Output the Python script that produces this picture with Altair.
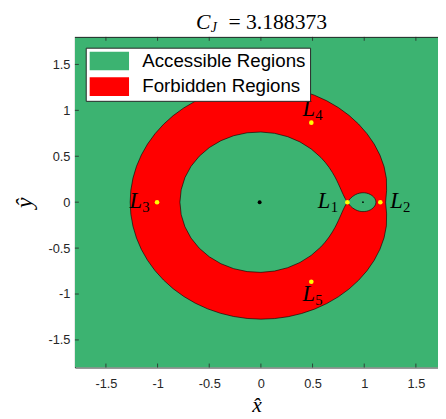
import altair as alt
import pandas as pd
import numpy as np

# ---- data (Earth-Moon CR3BP, zero-velocity curves read as polar radii) ----
MU = 0.01215
CJ_TEXT = "= 3.188373"

outer_deg = [0, 6, 12, 18, 24, 30, 36, 42, 48, 54, 60, 66, 72, 78, 84, 90,
             96, 102, 108, 114, 120, 126, 132, 138, 144, 150, 156, 162, 168, 174, 180]
outer_r = [1.2071, 1.2232, 1.2415, 1.2534, 1.2610, 1.2661, 1.2694, 1.2717,
           1.2732, 1.2742, 1.2747, 1.2749, 1.2748, 1.2746, 1.2742, 1.2736,
           1.2730, 1.2723, 1.2715, 1.2708, 1.2700, 1.2692, 1.2685, 1.2678,
           1.2672, 1.2666, 1.2662, 1.2658, 1.2655, 1.2654, 1.2653]

inner_deg = [0, 1, 2, 3, 4, 6, 8, 10, 12, 15, 18, 21, 25, 30, 35, 40, 50, 60,
             70, 80, 90, 100, 110, 120, 130, 140, 150, 160, 170, 180]
inner_r = [0.8351, 0.8285, 0.8215, 0.8152, 0.8097, 0.8005, 0.7930, 0.7869,
           0.7819, 0.7759, 0.7713, 0.7677, 0.7640, 0.7609, 0.7588, 0.7576,
           0.7567, 0.7574, 0.7591, 0.7614, 0.7642, 0.7673, 0.7704, 0.7735,
           0.7764, 0.7789, 0.7810, 0.7825, 0.7835, 0.7838]

lobe_deg = [0, 10, 20, 30, 40, 50, 60, 70, 80, 90, 100, 110, 120, 130, 140,
            150, 160, 165, 170, 175, 178, 180]
lobe_r = [0.1257, 0.1245, 0.1213, 0.1174, 0.1134, 0.1098, 0.1069, 0.1048,
          0.1033, 0.1027, 0.1029, 0.1039, 0.1059, 0.1089, 0.1133, 0.1191,
          0.1268, 0.1316, 0.1371, 0.1433, 0.1474, 0.1491]

lp_names = ["1", "2", "3", "4", "5"]
lp_x = [0.8369, 1.1557, -1.0051, 0.4879, 0.4879]
lp_y = [0.0, 0.0, 0.0, 0.8660, -0.8660]

primary_x = [-MU, 1 - MU]
primary_y = [0.0, 0.0]

regions = ["Accessible Regions", "Forbidden Regions"]
xticks = [-1.5, -1, -0.5, 0, 0.5, 1, 1.5]
yticks = [-1.5, -1, -0.5, 0, 0.5, 1, 1.5]

XLIM = [-1.8, 1.714]
YLIM = [-1.8, 1.8]

# ---- style ----
GREEN = "#3CB371"
RED = "#FF0000"
AXC = "#262626"
W, H = 369, 336
SERIF = "Liberation Serif"
SANS = "Liberation Sans"

xs = alt.Scale(domain=XLIM, nice=False, zero=False)
ys = alt.Scale(domain=YLIM, nice=False, zero=False)
cs = alt.Scale(domain=regions, range=[GREEN, RED])


def polygon(deg, r, cx, region):
    th = np.radians(np.array(deg, dtype=float))
    r = np.array(r, dtype=float)
    xt, yt = cx + r * np.cos(th), r * np.sin(th)
    xb, yb = xt[-2:0:-1], -yt[-2:0:-1]
    x = np.concatenate([xt, xb])
    y = np.concatenate([yt, yb])
    return pd.DataFrame({"x": x, "y": y, "ord": np.arange(len(x)), "region": region})


bg = pd.DataFrame({"x1": [XLIM[0]], "x2": [XLIM[1]], "y1": [YLIM[0]], "y2": [YLIM[1]],
                   "region": [regions[0]]})

base_rect = alt.Chart(bg).mark_rect(clip=True).encode(
    x=alt.X("x1:Q", scale=xs, axis=alt.Axis(
        orient="bottom", values=xticks, ticks=False, grid=False, domainColor=AXC,
        labelExpr="'' + datum.value", labelFont=SANS, labelFontSize=13,
        labelColor=AXC, labelPadding=10, title="x\u0302", titleFont=SERIF,
        titleFontStyle="italic", titleFontWeight="normal", titleFontSize=22,
        titleColor="black", titlePadding=5)),
    x2="x2:Q",
    y=alt.Y("y1:Q", scale=ys, axis=alt.Axis(
        orient="left", values=yticks, ticks=False, grid=False, domainColor=AXC,
        labelExpr="'' + datum.value", labelFont=SANS, labelFontSize=13,
        labelColor=AXC, labelPadding=5, title="y\u0302", titleFont=SERIF,
        titleFontStyle="italic", titleFontWeight="normal", titleFontSize=24,
        titleColor="black", titlePadding=12)),
    y2="y2:Q",
    fill=alt.Fill("region:N", scale=cs, legend=alt.Legend(
        title=None, orient="none", legendX=11, legendY=11,
        symbolType="M-2.105,-1H2.105V1H-2.105Z", symbolSize=361,
        symbolStrokeWidth=0, symbolOffset=10.5, labelOffset=24, labelLimit=400,
        labelFont=SANS, labelFontSize=19, labelColor="black",
        fillColor="white", strokeColor=AXC, padding=4, rowPadding=6)),
)


def poly_layer(df):
    return alt.Chart(df).mark_line(interpolate="linear-closed", stroke="black",
                                   strokeWidth=0.6, clip=True).encode(
        x=alt.X("x:Q", scale=xs, axis=None),
        y=alt.Y("y:Q", scale=ys, axis=None),
        order="ord:Q",
        fill=alt.Fill("region:N", scale=cs, legend=None),
    )


outer_l = poly_layer(polygon(outer_deg, outer_r, 0.0, regions[1]))
inner_l = poly_layer(polygon(inner_deg, inner_r, 0.0, regions[0]))
lobe_l = poly_layer(polygon(lobe_deg, lobe_r, 1 - MU, regions[0]))

prim = pd.DataFrame({"x": primary_x, "y": primary_y, "s": [16, 3]})
prim_l = alt.Chart(prim).mark_circle(color="black", opacity=1).encode(
    x=alt.X("x:Q", scale=xs, axis=None), y=alt.Y("y:Q", scale=ys, axis=None),
    size=alt.Size("s:Q", scale=None, legend=None))

lp = pd.DataFrame({"x": lp_x, "y": lp_y, "n": lp_names})
lp_l = alt.Chart(lp).mark_circle(color="#FFFF00", opacity=1, size=22).encode(
    x=alt.X("x:Q", scale=xs, axis=None), y=alt.Y("y:Q", scale=ys, axis=None))

# label placement (pixels relative to the point): L left edge, L baseline
place = {"1": (-30, 6), "2": (10, 6), "3": (-28, 6), "4": (-9, -7), "5": (-9, 20)}
label_layers = []
for i, n in enumerate(lp_names):
    d = lp.iloc[[i]].assign(L="L")
    dx, dy = place[n]
    label_layers.append(alt.Chart(d).mark_text(
        font=SERIF, fontStyle="italic", fontSize=23, align="left",
        baseline="alphabetic", dx=dx, dy=dy, color="black").encode(
        x=alt.X("x:Q", scale=xs, axis=None), y=alt.Y("y:Q", scale=ys, axis=None),
        text="L:N"))
    label_layers.append(alt.Chart(d).mark_text(
        font=SERIF, fontSize=15, align="left", baseline="alphabetic",
        dx=dx + 13, dy=dy + 4, color="black").encode(
        x=alt.X("x:Q", scale=xs, axis=None), y=alt.Y("y:Q", scale=ys, axis=None),
        text="n:N"))

xt_df = pd.DataFrame({"v": xticks})
yt_df = pd.DataFrame({"v": yticks})
tick_b = alt.Chart(xt_df).mark_rule(color=AXC, strokeWidth=0.8).encode(
    x=alt.X("v:Q", scale=xs, axis=None), y=alt.value(H), y2=alt.value(H - 4))
tick_t = alt.Chart(xt_df).mark_rule(color=AXC, strokeWidth=0.8).encode(
    x=alt.X("v:Q", scale=xs, axis=None), y=alt.value(0), y2=alt.value(4))
tick_l = alt.Chart(yt_df).mark_rule(color=AXC, strokeWidth=0.8).encode(
    y=alt.Y("v:Q", scale=ys, axis=None), x=alt.value(0), x2=alt.value(4))
# top frame line of the axes box
frame_t = alt.Chart(pd.DataFrame({"v": [XLIM[0]], "v2": [XLIM[1]]})).mark_rule(
    color=AXC, strokeWidth=1).encode(
    x=alt.X("v:Q", scale=xs, axis=None), x2="v2:Q", y=alt.value(0.5))

title_df = pd.DataFrame({"c": ["C"], "j": ["J"], "v": [CJ_TEXT]})
t1 = alt.Chart(title_df).mark_text(font=SERIF, fontStyle="italic", fontSize=22,
                                   align="left", baseline="alphabetic", color="black").encode(
    x=alt.value(123), y=alt.value(-8), text="c:N")
t2 = alt.Chart(title_df).mark_text(font=SERIF, fontStyle="italic", fontSize=14,
                                   align="left", baseline="alphabetic", color="black").encode(
    x=alt.value(138), y=alt.value(-5), text="j:N")
t3 = alt.Chart(title_df).mark_text(font=SERIF, fontSize=22,
                                   align="left", baseline="alphabetic", color="black").encode(
    x=alt.value(156), y=alt.value(-8), text="v:N")

chart = alt.layer(
    base_rect, outer_l, inner_l, lobe_l, prim_l, lp_l, *label_layers,
    tick_b, tick_t, tick_l, frame_t, t1, t2, t3,
).resolve_axis(x="independent", y="independent").properties(
    width=W, height=H,
    autosize=alt.AutoSizeParams(type="none"),
    padding={"left": 68, "top": 26, "right": 0, "bottom": 49},
).configure_view(stroke=None)

chart.save("out.html", embed_options={"renderer": "svg", "actions": False})
